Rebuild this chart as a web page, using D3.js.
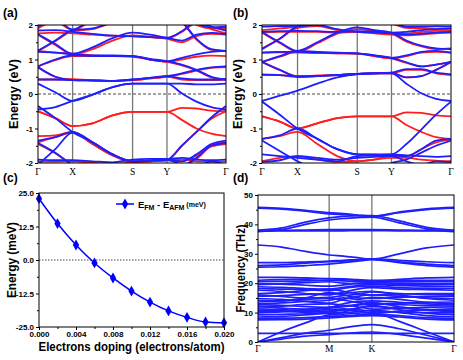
<!DOCTYPE html>
<html>
<head>
<meta charset="utf-8">
<script src="https://cdn.jsdelivr.net/npm/d3@7"></script>
<style>
	body{margin:0;background:#fff;}
</style>
</head>
<body>
<svg id="fig" width="463" height="360" font-family="Arial, 'Liberation Sans', sans-serif"></svg>
<script>
// ---------- panel (a): FM bands, energies (eV) at k samples along G-X-S-Y-G
var kA = [0, 0.092, 0.184, 0.29, 0.397, 0.503, 0.595, 0.686, 0.765, 0.843, 0.922, 1];
var symA = [0, 0.184, 0.503, 0.686, 1];
var symLabelsA = ["Γ", "X", "S", "Y", "Γ"];
var blueA = [
	[1.95, 2.15, 1.87, 2.2, 2.5, 2.5, 2.5, 2.5, 2.3, 2.05, 1.93, 1.95],
	[1.84, 1.85, 1.8, 1.74, 1.69, 1.67, 1.65, 1.63, 1.82, 2.1, 1.95, 1.84],
	[1.73, 1.45, 1.17, 1.35, 1.62, 1.78, 1.72, 1.63, 1.55, 1.72, 1.77, 1.73],
	[1.25, 1.55, 1.85, 1.9, 2.1, 2.3, 2.3, 2.3, 2.1, 1.6, 1.3, 1.25],
	[1.22, 1.2, 1.15, 1.12, 1.12, 1.1, 1.02, 0.95, 0.85, 0.7, 0.5, 0.42],
	[0.8, 1.0, 1.12, 1.1, 1.1, 1.1, 1.0, 0.95, 1.05, 1.15, 1.22, 1.25],
	[0.78, 0.5, 0.4, 0.39, 0.38, 0.42, 0.47, 0.52, 0.6, 0.7, 0.77, 0.8],
	[0.42, 0.42, 0.4, 0.39, 0.38, 0.42, 0.47, 0.52, 0.45, 0.42, 0.42, 0.42],
	[0.3, 0.05, -0.2, -0.02, 0.2, 0.3, 0.3, 0.3, 0.3, 0.28, 0.28, 0.3],
	[-0.45, -0.38, -0.2, -0.02, 0.2, 0.3, 0.3, 0.3, 0.02, -0.22, -0.38, -0.45],
	[-0.35, -0.7, -1.1, -1.4, -1.75, -1.95, -1.93, -1.9, -1.5, -1.1, -0.68, -0.35],
	[-1.35, -1.25, -1.1, -1.4, -1.75, -1.95, -1.93, -1.9, -1.95, -1.75, -1.45, -1.35],
	[-1.42, -1.7, -2.05, -2.2, -2.3, -2.3, -2.3, -2.2, -2.1, -1.85, -1.5, -1.42],
	[-1.9, -1.92, -1.92, -1.95, -1.98, -1.9, -1.88, -1.88, -1.85, -1.9, -1.92, -1.9],
	[-2.05, -1.6, -1.12, -1.4, -1.75, -1.95, -1.93, -1.9, -2.05, -2.1, -1.95, -2.05]
];
var redA = [
	[1.9, 2.1, 1.85, 2.15, 2.45, 2.5, 2.5, 2.5, 2.25, 2.0, 1.9, 1.9],
	[1.76, 1.78, 1.76, 1.72, 1.69, 1.68, 1.65, 1.62, 1.8, 2.05, 1.88, 1.76],
	[1.72, 1.42, 1.15, 1.3, 1.55, 1.7, 1.66, 1.6, 1.5, 1.68, 1.74, 1.72],
	[1.25, 1.53, 1.82, 1.88, 2.08, 2.3, 2.3, 2.3, 2.08, 1.58, 1.28, 1.25],
	[1.25, 1.2, 1.17, 1.12, 1.1, 1.1, 1.0, 0.93, 0.83, 0.68, 0.48, 0.42],
	[0.8, 0.98, 1.1, 1.1, 1.1, 1.08, 1.0, 0.93, 1.0, 1.08, 1.11, 1.1],
	[0.77, 0.5, 0.42, 0.4, 0.38, 0.4, 0.45, 0.5, 0.58, 0.68, 0.76, 0.78],
	[0.42, 0.42, 0.42, 0.4, 0.38, 0.4, 0.45, 0.5, 0.42, 0.4, 0.4, 0.42],
	[-0.5, -0.7, -0.93, -0.85, -0.62, -0.52, -0.52, -0.52, -0.4, -0.42, -0.48, -0.5],
	[-0.5, -0.7, -0.93, -0.85, -0.62, -0.52, -0.52, -0.52, -0.75, -1.0, -1.15, -1.22],
	[-1.22, -1.2, -1.1, -1.45, -1.78, -1.97, -1.95, -1.92, -1.5, -1.1, -0.72, -0.5],
	[-1.4, -1.25, -1.12, -1.45, -1.78, -1.97, -1.95, -1.92, -1.95, -1.78, -1.48, -1.4],
	[-1.45, -1.72, -2.05, -2.2, -2.3, -2.3, -2.3, -2.2, -2.1, -1.88, -1.52, -1.45],
	[-1.95, -1.96, -1.95, -2.0, -2.03, -1.98, -1.95, -1.92, -1.9, -1.95, -1.96, -1.95]
];

// ---------- panel (b): AFM bands
var kB = [0, 0.094, 0.188, 0.293, 0.398, 0.504, 0.594, 0.685, 0.764, 0.843, 0.921, 1];
var symB = [0, 0.188, 0.504, 0.685, 1];
var symLabelsB = ["Γ", "X", "S", "Y", "Γ"];
var blueB = [
	[1.95, 1.97, 1.97, 2.2, 2.4, 2.4, 2.3, 2.1, 1.95, 1.95, 1.96, 1.95],
	[1.8, 1.82, 1.83, 1.82, 1.8, 1.82, 1.8, 1.78, 1.8, 1.85, 1.88, 1.9],
	[1.8, 1.5, 1.25, 1.5, 1.78, 1.93, 1.85, 1.78, 1.55, 1.4, 1.32, 1.3],
	[1.3, 1.6, 1.95, 2.0, 1.88, 1.8, 1.78, 1.76, 1.72, 1.75, 1.78, 1.8],
	[1.2, 1.22, 1.22, 1.2, 1.19, 1.18, 1.12, 1.05, 1.12, 1.22, 1.25, 1.2],
	[0.93, 1.1, 1.25, 1.22, 1.2, 1.18, 1.12, 1.05, 0.92, 0.8, 0.85, 0.93],
	[0.93, 0.7, 0.5, 0.52, 0.55, 0.58, 0.6, 0.62, 0.48, 0.52, 0.7, 0.93],
	[0.57, 0.55, 0.5, 0.52, 0.55, 0.58, 0.6, 0.62, 0.72, 0.72, 0.62, 0.57],
	[-0.2, -0.05, 0.1, 0.3, 0.48, 0.58, 0.6, 0.6, 0.3, 0.02, -0.14, -0.2],
	[-0.22, -0.6, -1.0, -1.3, -1.6, -1.75, -1.75, -1.75, -1.45, -1.03, -0.6, -0.22],
	[-1.3, -1.2, -1.0, -1.3, -1.6, -1.75, -1.76, -1.77, -1.8, -1.6, -1.35, -1.3],
	[-1.75, -1.8, -1.85, -1.9, -1.95, -1.8, -1.78, -1.75, -1.78, -1.8, -1.82, -1.8],
	[-1.35, -1.65, -1.95, -2.2, -2.3, -2.3, -2.2, -2.0, -1.9, -1.7, -1.5, -1.35],
	[-1.97, -1.92, -1.8, -1.85, -1.9, -1.85, -1.82, -1.8, -1.95, -2.05, -1.95, -1.97]
];
var redB = [
	[1.85, 1.9, 1.95, 2.15, 2.35, 2.35, 2.25, 2.05, 1.92, 1.9, 1.88, 1.85],
	[1.78, 1.8, 1.8, 1.8, 1.78, 1.8, 1.78, 1.75, 1.75, 1.8, 1.83, 1.82],
	[1.78, 1.48, 1.22, 1.47, 1.75, 1.88, 1.82, 1.75, 1.52, 1.38, 1.3, 1.32],
	[1.32, 1.6, 1.92, 1.97, 1.85, 1.8, 1.76, 1.72, 1.7, 1.72, 1.76, 1.78],
	[1.2, 1.21, 1.2, 1.19, 1.18, 1.17, 1.1, 1.03, 1.1, 1.2, 1.22, 1.2],
	[0.93, 1.08, 1.22, 1.2, 1.18, 1.17, 1.1, 1.03, 0.9, 0.8, 0.85, 0.93],
	[0.93, 0.7, 0.52, 0.53, 0.55, 0.58, 0.6, 0.6, 0.48, 0.52, 0.7, 0.93],
	[0.55, 0.55, 0.52, 0.53, 0.55, 0.58, 0.6, 0.6, 0.7, 0.7, 0.6, 0.55],
	[-0.65, -0.8, -1.0, -0.85, -0.7, -0.65, -0.65, -0.65, -0.53, -0.55, -0.62, -0.65],
	[-0.65, -0.8, -1.0, -0.85, -0.7, -0.65, -0.65, -0.65, -0.9, -1.1, -1.25, -1.3],
	[-1.3, -1.22, -1.1, -1.45, -1.8, -1.95, -1.9, -1.8, -1.8, -1.6, -1.4, -1.32],
	[-1.95, -1.85, -1.8, -1.9, -1.97, -1.95, -1.9, -1.85, -1.85, -1.9, -1.93, -1.95]
];
var bandTicks = [-2, -1, 0, 1, 2];

// ---------- panel (c): E_FM - E_AFM vs doping
var doping = [0, 0.002, 0.004, 0.006, 0.008, 0.010, 0.012, 0.014, 0.016, 0.018, 0.020];
var energyDiff = [22.9, 13.6, 5.6, -1.1, -6.7, -11.6, -15.7, -19.0, -21.4, -23.1, -23.4];
var dopingTicks = [0, 0.004, 0.008, 0.012, 0.016, 0.020];
var energyTicks = [-25, -12.5, 0, 12.5, 25];

// ---------- panel (d): phonon frequencies (THz) along G-M-K-G
var kD = [0, 0.121, 0.242, 0.363, 0.436, 0.508, 0.581, 0.721, 0.86, 1];
var symD = [0, 0.363, 0.581, 1];
var symLabelsD = ["Γ", "M", "K", "Γ"];
var phonons = [
	[0, 3.5, 6.5, 9.2, 9.5, 9.8, 10.0, 7.0, 3.5, 0],
	[0, 1.5, 3.0, 4.0, 4.8, 5.5, 5.9, 4.5, 2.3, 0],
	[0, 1.0, 2.0, 2.5, 2.9, 3.2, 3.4, 2.6, 1.3, 0],
	[2.9, 2.9, 2.9, 2.9, 2.9, 2.9, 2.9, 2.9, 2.9, 2.9],
	[7.5, 7.6, 7.8, 8.2, 8.5, 8.8, 9.0, 8.5, 7.8, 7.5],
	[8.0, 8.1, 8.3, 8.7, 8.9, 9.2, 9.5, 9.0, 8.3, 8.0],
	[8.5, 8.7, 9.2, 9.8, 10.0, 10.3, 10.8, 10.0, 9.0, 8.5],
	[9.2, 9.4, 9.6, 10.2, 10.8, 11.5, 12.5, 11.0, 9.8, 9.2],
	[9.9, 10.2, 10.6, 11.0, 11.3, 11.0, 10.5, 10.2, 10.0, 9.9],
	[10.3, 10.5, 11.0, 11.8, 12.2, 12.8, 13.5, 12.0, 10.8, 10.3],
	[10.8, 10.6, 10.0, 9.8, 10.2, 11.5, 12.0, 11.5, 11.0, 10.8],
	[11.3, 11.0, 10.5, 10.5, 11.0, 10.5, 9.8, 10.5, 11.0, 11.3],
	[11.9, 12.2, 12.8, 13.0, 12.5, 12.0, 11.2, 11.5, 11.8, 11.9],
	[12.2, 11.5, 11.2, 11.5, 12.0, 12.5, 13.0, 12.7, 12.4, 12.2],
	[12.7, 12.5, 12.0, 11.8, 13.0, 13.8, 14.0, 13.5, 13.0, 12.7],
	[13.0, 13.3, 13.8, 14.2, 15.0, 14.5, 15.2, 14.5, 13.5, 13.0],
	[13.6, 14.0, 14.5, 14.8, 14.2, 13.5, 12.8, 13.2, 13.5, 13.6],
	[14.2, 14.0, 15.0, 16.8, 16.5, 17.0, 17.2, 16.0, 14.8, 14.2],
	[14.8, 14.5, 13.8, 13.2, 14.5, 15.5, 16.0, 15.5, 15.0, 14.8],
	[15.6, 15.8, 16.2, 16.5, 16.0, 15.0, 14.8, 15.2, 15.5, 15.6],
	[16.0, 15.5, 15.0, 15.2, 15.8, 16.2, 17.0, 16.5, 16.2, 16.0],
	[16.5, 16.8, 17.5, 18.0, 17.2, 16.5, 16.0, 16.3, 16.5, 16.5],
	[17.6, 17.2, 16.5, 16.0, 17.0, 18.0, 18.5, 18.0, 17.8, 17.6],
	[18.2, 18.0, 17.8, 17.5, 18.2, 18.8, 19.0, 18.5, 18.3, 18.2],
	[18.8, 18.6, 18.2, 18.0, 18.6, 19.2, 19.5, 19.2, 19.0, 18.8],
	[19.5, 19.8, 20.2, 20.5, 20.0, 19.8, 19.8, 19.6, 19.5, 19.5],
	[19.9, 19.7, 19.3, 19.0, 19.4, 20.0, 20.2, 20.0, 19.9, 19.9],
	[20.5, 20.6, 20.8, 21.0, 20.8, 20.6, 20.5, 20.5, 20.5, 20.5],
	[21.0, 21.2, 21.4, 21.6, 21.5, 21.2, 21.0, 21.0, 21.0, 21.0],
	[22.0, 22.0, 21.8, 21.5, 21.3, 21.0, 20.8, 21.3, 21.8, 22.0],
	[25.5, 25.6, 26.0, 26.5, 27.0, 27.5, 28.0, 27.0, 26.0, 25.5],
	[26.0, 26.2, 26.8, 27.3, 27.5, 27.8, 28.2, 27.3, 26.5, 26.0],
	[27.0, 27.0, 27.2, 27.5, 27.8, 28.0, 28.3, 27.8, 27.3, 27.0],
	[33.0, 32.3, 30.8, 29.6, 29.2, 28.7, 28.2, 30.0, 32.0, 33.0],
	[37.5, 38.2, 40.0, 41.5, 42.0, 42.3, 42.5, 40.5, 38.5, 37.5],
	[38.0, 38.8, 40.8, 42.2, 42.7, 43.0, 43.0, 41.2, 39.0, 38.0],
	[38.0, 38.0, 38.1, 38.2, 38.2, 38.2, 38.2, 38.1, 38.0, 38.0],
	[37.8, 37.8, 37.8, 37.8, 37.8, 37.9, 37.9, 37.8, 37.8, 37.8],
	[45.8, 45.5, 44.8, 44.0, 43.7, 43.2, 42.8, 44.2, 45.3, 45.8],
	[45.5, 45.2, 44.5, 43.6, 43.3, 43.0, 42.7, 44.0, 45.0, 45.5]
];
var freqTicks = [0, 10, 20, 30, 40, 50];

var svg = d3.select("#fig");
var BLUE = "#1e1eff", RED = "#ff1e1e";
var SANS = "Arial, 'Liberation Sans', sans-serif";
var SERIF = "'Liberation Serif', 'Times New Roman', serif";

// tick labels bold and small, no domain path (frame drawn separately)
function styleAxis(g, size){
	g.select(".domain").remove();
	g.selectAll("line").attr("stroke", "#000");
	g.selectAll("text")
		.attr("font-size", size)
		.attr("font-weight", "bold")
		.attr("font-family", SANS)
		.attr("fill", "#000");
}

function frame(g, b){
	g.append("rect")
		.attr("x", b.left).attr("y", b.top)
		.attr("width", b.right - b.left).attr("height", b.bottom - b.top)
		.attr("fill", "none").attr("stroke", "#000").attr("stroke-width", 1);
}

function yTitle(g, text, cx, cy, len){
	g.append("text")
		.attr("transform", "translate(" + cx + "," + cy + ") rotate(-90)")
		.attr("text-anchor", "middle")
		.attr("font-size", 12.5).attr("font-weight", "bold")
		.attr("textLength", len).attr("lengthAdjust", "spacingAndGlyphs")
		.text(text);
}

function letter(g, text, x, y){
	g.append("text").attr("x", x).attr("y", y)
		.attr("font-size", 12).attr("font-weight", "bold").text(text);
}

// band structure / phonon panel
function bandPanel(p){
	var x = d3.scaleLinear().domain([0, 1]).range([p.left, p.right]);
	var y = d3.scaleLinear().domain(p.yDomain).range([p.bottom, p.top]);
	var g = svg.append("g");

	svg.append("clipPath").attr("id", "clip-" + p.name)
		.append("rect")
		.attr("x", p.left).attr("y", p.top)
		.attr("width", p.right - p.left).attr("height", p.bottom - p.top);

	// high symmetry lines
	g.selectAll("line.sym").data(p.sym.slice(1, -1)).enter().append("line")
		.attr("x1", function(d){ return x(d); }).attr("x2", function(d){ return x(d); })
		.attr("y1", p.top).attr("y2", p.bottom)
		.attr("stroke", "#777").attr("stroke-width", 1.3);

	if(p.zero){
		g.append("line")
			.attr("x1", p.left).attr("x2", p.right)
			.attr("y1", y(0)).attr("y2", y(0))
			.attr("stroke", "#333").attr("stroke-dasharray", "3,2").attr("stroke-width", 0.9);
	}

	var line = d3.line()
		.x(function(d, i){ return x(p.k[i]); })
		.y(function(d){ return y(d); })
		.curve(d3.curveMonotoneX);

	var body = g.append("g").attr("clip-path", "url(#clip-" + p.name + ")");
	p.series.forEach(function(s){
		body.selectAll(null).data(s.bands).enter().append("path")
			.attr("d", line)
			.attr("fill", "none")
			.attr("stroke", s.color)
			.attr("stroke-width", p.lw);
	});

	frame(g, p);

	var ax = g.append("g").attr("transform", "translate(" + p.left + ",0)")
		.call(d3.axisLeft(y).tickValues(p.ticks).tickSize(3).tickPadding(2)
			.tickFormat(function(d){ return String(d); }));
	styleAxis(ax, 8);
	var minor = g.append("g").attr("transform", "translate(" + p.left + ",0)")
		.call(d3.axisLeft(y).tickValues(p.minor).tickSize(2).tickFormat(""));
	styleAxis(minor, 8);

	g.selectAll("text.k").data(p.sym).enter().append("text")
		.attr("x", function(d){ return x(d); })
		.attr("y", p.bottom + p.labelGap)
		.attr("text-anchor", "middle")
		.attr("font-family", SERIF)
		.attr("font-size", 9.5)
		.text(function(d, i){ return p.labels[i]; });

	yTitle(g, p.title, p.titleX, (p.top + p.bottom) / 2, p.titleLen);
	letter(g, p.letter, p.letterX, p.letterY);
}

bandPanel({
	name: "a", left: 38, right: 226, top: 25, bottom: 163,
	yDomain: [-2, 2], ticks: bandTicks, minor: [-1.5, -0.5, 0.5, 1.5],
	k: kA, sym: symA, labels: symLabelsA, labelGap: 12, zero: true, lw: 1.8,
	series: [{color: RED, bands: redA}, {color: BLUE, bands: blueA}],
	title: "Energy (eV)", titleX: 18, titleLen: 70,
	letter: "(a)", letterX: 3, letterY: 17
});

bandPanel({
	name: "b", left: 262, right: 451, top: 25, bottom: 163,
	yDomain: [-2, 2], ticks: bandTicks, minor: [-1.5, -0.5, 0.5, 1.5],
	k: kB, sym: symB, labels: symLabelsB, labelGap: 12, zero: true, lw: 1.8,
	series: [{color: RED, bands: redB}, {color: BLUE, bands: blueB}],
	title: "Energy (eV)", titleX: 242, titleLen: 70,
	letter: "(b)", letterX: 233, letterY: 17
});

bandPanel({
	name: "d", left: 258, right: 454, top: 195, bottom: 342,
	yDomain: [0, 50], ticks: freqTicks, minor: [5, 15, 25, 35, 45],
	k: kD, sym: symD, labels: symLabelsD, labelGap: 10, zero: false, lw: 1.7,
	series: [{color: BLUE, bands: phonons}],
	title: "Frequency (THz)", titleX: 245, titleLen: 88,
	letter: "(d)", letterX: 233, letterY: 182
});

// panel (c): energy difference line chart
(function(){
	var b = {left: 39, right: 224, top: 193, bottom: 327};
	var x = d3.scaleLinear().domain([0, 0.02]).range([b.left, b.right]);
	var y = d3.scaleLinear().domain([-25, 25]).range([b.bottom, b.top]);
	var g = svg.append("g");

	g.append("line")
		.attr("x1", b.left).attr("x2", b.right).attr("y1", y(0)).attr("y2", y(0))
		.attr("stroke", "#444").attr("stroke-dasharray", "1.5,1.5").attr("stroke-width", 1);

	var line = d3.line()
		.x(function(d, i){ return x(doping[i]); })
		.y(function(d){ return y(d); })
		.curve(d3.curveMonotoneX);
	g.append("path").datum(energyDiff)
		.attr("d", line).attr("fill", "none").attr("stroke", "#0000ff").attr("stroke-width", 1.5);

	var diamond = d3.symbol().type(d3.symbolDiamond).size(34);
	g.selectAll("path.pt").data(energyDiff).enter().append("path")
		.attr("d", diamond)
		.attr("transform", function(d, i){ return "translate(" + x(doping[i]) + "," + y(d) + ")"; })
		.attr("fill", "#0000ff");

	frame(g, b);

	var ay = g.append("g").attr("transform", "translate(" + b.left + ",0)")
		.call(d3.axisLeft(y).tickValues(energyTicks).tickSize(3).tickPadding(2)
			.tickFormat(function(d){ return d.toFixed(1); }));
	styleAxis(ay, 8);
	var ayMinor = g.append("g").attr("transform", "translate(" + b.left + ",0)")
		.call(d3.axisLeft(y).tickValues([-18.75, -6.25, 6.25, 18.75]).tickSize(2).tickFormat(""));
	styleAxis(ayMinor, 8);

	var ax = g.append("g").attr("transform", "translate(0," + b.bottom + ")")
		.call(d3.axisBottom(x).tickValues(dopingTicks).tickSize(3).tickPadding(1)
			.tickFormat(function(d){ return d.toFixed(3); }));
	styleAxis(ax, 8);
	var axMinor = g.append("g").attr("transform", "translate(0," + b.bottom + ")")
		.call(d3.axisBottom(x).tickValues([0.002, 0.006, 0.010, 0.014, 0.018]).tickSize(2).tickFormat(""));
	styleAxis(axMinor, 8);

	g.append("text")
		.attr("x", (b.left + b.right) / 2).attr("y", 351)
		.attr("text-anchor", "middle")
		.attr("font-size", 12.5).attr("font-weight", "bold")
		.attr("textLength", 186).attr("lengthAdjust", "spacingAndGlyphs")
		.text("Electrons doping (electrons/atom)");

	yTitle(g, "Energy (meV)", 16, (b.top + b.bottom) / 2, 76);
	letter(g, "(c)", 3, 182);

	// legend
	var ly = 204;
	g.append("line").attr("x1", 116).attr("x2", 134).attr("y1", ly).attr("y2", ly)
		.attr("stroke", "#0000ff").attr("stroke-width", 1.5);
	g.append("path").attr("d", diamond).attr("transform", "translate(125," + ly + ")").attr("fill", "#0000ff");
	var t = g.append("text").attr("x", 138).attr("y", ly + 3.5)
		.attr("font-size", 9.5).attr("font-weight", "bold");
	t.append("tspan").text("E");
	t.append("tspan").attr("font-size", 7).attr("dy", 2.5).text("FM");
	t.append("tspan").attr("dy", -2.5).text(" - E");
	t.append("tspan").attr("font-size", 7).attr("dy", 2.5).text("AFM");
	t.append("tspan").attr("font-size", 7).attr("dy", -3).text(" (meV)");
})();
</script>
</body>
</html>
